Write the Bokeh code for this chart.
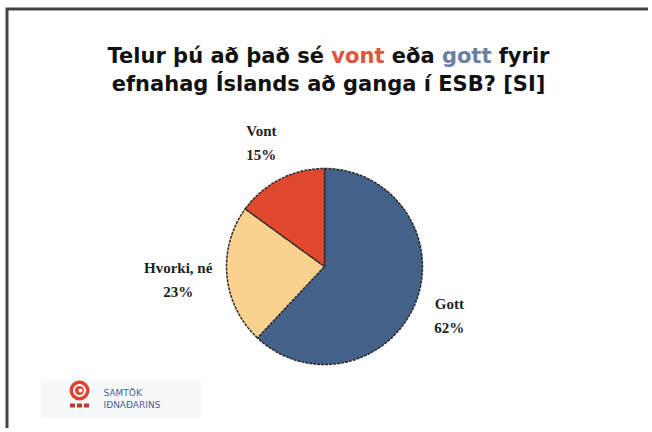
import math
from bokeh.plotting import figure
from bokeh.models import Range1d, ColumnDataSource
from bokeh.core.properties import value
from bokeh.embed import file_html
from bokeh.resources import INLINE

# ---- data ----
categories = ["Gott", "Hvorki, né", "Vont"]
percents = [62, 23, 15]
slice_colors = ["#44618a", "#f8d28e", "#e0482f"]
title_line1 = [("Telur þú að það sé", "#111111"), ("vont", "#e0533c"),
               ("eða", "#111111"), ("gott", "#6b7ea6"), ("fyrir", "#111111")]
title_line2 = "efnahag Íslands að ganga í ESB? [SI]"
logo_lines = ["SAMTÖK", "IÐNAÐARINS"]

W, H = 648, 428
TITLE_FONT = "DejaVu Sans"
TITLE_SIZE = 21

# ---- text width measurement ----
_w = {' ': .348, 'T': .683, 'e': .678, 'l': .343, 'u': .712, 'r': .493, 'þ': .716,
      'ú': .712, 'a': .675, 'ð': .687, 's': .595, 'é': .678, 'v': .652, 'o': .687,
      'n': .712, 't': .478, 'g': .716, 'f': .435, 'y': .652, 'i': .343}
def text_width(s, size):
    try:
        from PIL import ImageFont
        import glob
        paths = glob.glob("/usr/share/fonts/**/DejaVuSans-Bold.ttf", recursive=True)
        f = ImageFont.truetype(paths[0], size)
        return f.getlength(s)
    except Exception:
        return sum(_w.get(c, .66) for c in s) * size

p = figure(width=W, height=H, output_backend="svg", toolbar_location=None,
           x_range=Range1d(0, W), y_range=Range1d(0, H), min_border=0,
           background_fill_color="white", border_fill_color="white")
p.axis.visible = False
p.grid.visible = False
p.outline_line_color = None

# frame (left and top); page y = H - data y
p.line(x=[6.5, 6.5, W + 10], y=[-10, H - 8.5, H - 8.5], line_color="#444444",
       line_width=3, line_join="miter")

# ---- pie ----
cx, cy, r = 324, H - 266, 98
total = sum(percents)
starts, ends, cum = [], [], 0
for v in percents:
    starts.append(math.pi / 2 - 2 * math.pi * cum / total)
    cum += v
    ends.append(math.pi / 2 - 2 * math.pi * cum / total)
src = ColumnDataSource(dict(cat=categories, pct=percents, color=slice_colors,
                            start=starts, end=ends))
p.wedge(x=cx, y=cy, radius=r, start_angle="start", end_angle="end", direction="clock",
        fill_color="color", line_color="#2a2a2a", line_width=1.5, line_dash="3 1",
        source=src)

# labels
mids = [(s + e) / 2 for s, e in zip(starts, ends)]
fac = [1.37, 1.5, 1.42]
lx = [cx + f * r * math.cos(m) for f, m in zip(fac, mids)]
ly = [cy + f * r * math.sin(m) for f, m in zip(fac, mids)]
lsrc = ColumnDataSource(dict(x=lx, y=ly, name=categories,
                             pct=[f"{v}%" for v in percents]))
common = dict(text_font=value("Liberation Serif"), text_font_style="bold",
              text_font_size="15px", text_color="#222222", text_align="center",
              text_baseline="middle", source=lsrc)
p.text(x="x", y="y", text="name", y_offset=-12, **common)
p.text(x="x", y="y", text="pct", y_offset=12, **common)

# ---- title ----
tcx = 328
space = text_width(" ", TITLE_SIZE)
widths = [text_width(s, TITLE_SIZE) for s, _ in title_line1]
total_w = sum(widths) + space * (len(widths) - 1)
xpos, xs = tcx - total_w / 2, []
for wd in widths:
    xs.append(xpos)
    xpos += wd + space
p.text(x=xs, y=[H - 55] * len(xs), text=[s for s, _ in title_line1],
       text_color=[c for _, c in title_line1], text_font=value(TITLE_FONT),
       text_font_style="bold", text_font_size=f"{TITLE_SIZE}px",
       text_align="left", text_baseline="middle")
p.text(x=[tcx], y=[H - 83], text=[title_line2], text_color="#111111",
       text_font=value(TITLE_FONT), text_font_style="bold",
       text_font_size=f"{TITLE_SIZE}px", text_align="center", text_baseline="middle")

# ---- logo ----
p.rect(x=[120], y=[H - 398], width=[160], height=[40], fill_color="#f6f9fc",
       line_color=None)
p.circle(x=[79], y=[H - 390], radius=10, fill_color="#e0432e", line_color=None)
p.circle(x=[79], y=[H - 390], radius=5.5, fill_color=None, line_color="white", line_width=2)
p.circle(x=[80], y=[H - 390], radius=2, fill_color="white", line_color=None)
p.rect(x=[72, 79, 86], y=[H - 405] * 3, width=5, height=4, fill_color="#c0392b",
       line_color=None)
p.text(x=[103, 103], y=[H - 392, H - 404], text=logo_lines, text_color="#4d5c8c",
       text_font=value("DejaVu Sans"), text_font_size="9px", text_align="left",
       text_baseline="middle")

open("out.html", "w").write(file_html(p, INLINE))
